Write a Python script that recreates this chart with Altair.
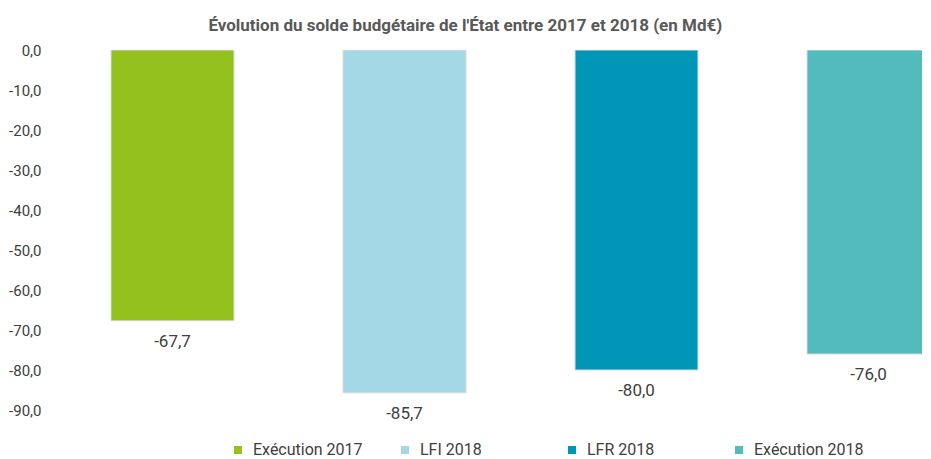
import altair as alt
import pandas as pd

categories = ["Exécution 2017", "LFI 2018", "LFR 2018", "Exécution 2018"]
values = [-67.7, -85.7, -80.0, -76.0]
colors = ["#95C11F", "#A5D8E6", "#0096B7", "#52BBBE"]
y_ticks = [0, -10, -20, -30, -40, -50, -60, -70, -80, -90]
title_text = "Évolution du solde budgétaire de l'État entre 2017 et 2018 (en Md€)"

df = pd.DataFrame({
    "cat": categories,
    "val": values,
    "label": [f"{v:.1f}".replace(".", ",") for v in values],
})

FONT = "Liberation Sans Narrow, Arial Narrow, Roboto, sans-serif"
TXT = "#404040"

x = alt.X("cat:N", sort=categories, axis=None,
          scale=alt.Scale(range=[9.5, 937.5], paddingInner=0.47, paddingOuter=0.235))
y = alt.Y("val:Q",
          scale=alt.Scale(domain=[-90, 0], nice=False, zero=True),
          axis=alt.Axis(values=y_ticks, labelExpr="datum.value + ',0'",
                        domain=False, ticks=False, grid=False, title=None,
                        labelFontSize=15, labelFont=FONT, labelColor=TXT,
                        labelPadding=6))

bars = alt.Chart(df).mark_bar(clip=True, stroke="#D9D9D9", strokeWidth=1).encode(
    x=x, y=y,
    color=alt.Color("cat:N", sort=categories,
                    scale=alt.Scale(domain=categories, range=colors),
                    legend=alt.Legend(orient="none", legendX=183, legendY=392,
                                      direction="horizontal", columns=4,
                                      symbolType="square", symbolSize=64,
                                      symbolStrokeWidth=0, labelFontSize=16,
                                      labelFont=FONT, labelColor=TXT,
                                      labelOffset=7, columnPadding=34,
                                      gridAlign="all", title=None, padding=0)),
)

labels = alt.Chart(df).mark_text(baseline="top", dy=13, fontSize=17, font=FONT,
                                 color=TXT).encode(
    x=x, y=y, text="label:N")

chart = (bars + labels).properties(
    width=875, height=360,
    padding={"left": 0, "top": 9, "right": 0, "bottom": 0},
    title=alt.TitleParams(title_text, fontSize=17, font=FONT, fontWeight="bold",
                          color="#595959", anchor="middle", frame="bounds",
                          offset=8),
).configure_view(stroke=None)

chart.save("out.html", embed_options={"renderer": "svg", "actions": False})
